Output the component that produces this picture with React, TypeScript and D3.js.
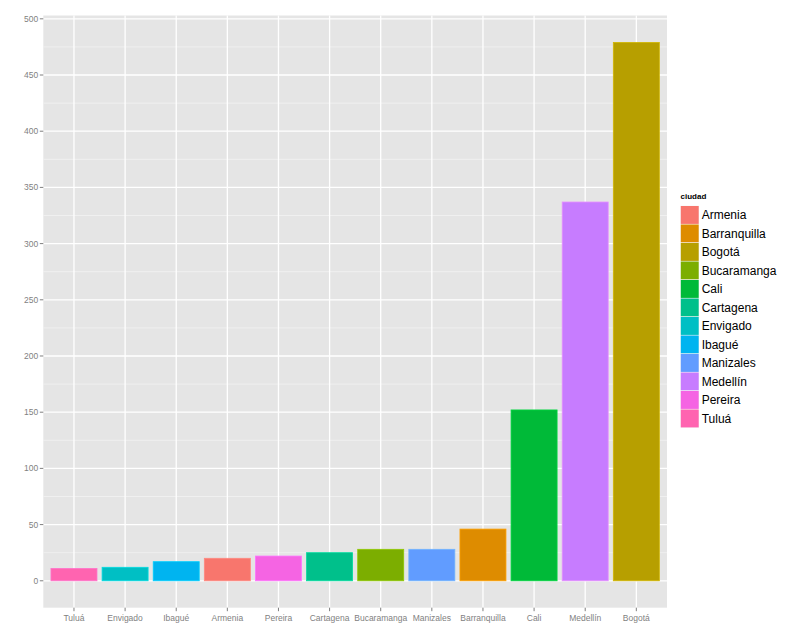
import * as d3 from "d3"

const ciudades = ["Tuluá", "Envigado", "Ibagué", "Armenia", "Pereira", "Cartagena", "Bucaramanga", "Manizales", "Barranquilla", "Cali", "Medellín", "Bogotá"]
const valores = [11, 12, 17, 20, 22, 25, 28, 28, 46, 152, 337, 479]
const legendOrder = ["Armenia", "Barranquilla", "Bogotá", "Bucaramanga", "Cali", "Cartagena", "Envigado", "Ibagué", "Manizales", "Medellín", "Pereira", "Tuluá"]
const palette = ["#F8766D", "#DE8C00", "#B79F00", "#7CAE00", "#00BA38", "#00C08B", "#00BFC4", "#00B4F0", "#619CFF", "#C77CFF", "#F564E3", "#FF64B0"]
const yTicks = [0, 50, 100, 150, 200, 250, 300, 350, 400, 450, 500]
const legendTitle = "ciudad"

const W = 800
const H = 644
const panel = { left: 43.3, right: 667, top: 15.5, bottom: 607.7 }

export default function App() {
  const maxV = d3.max(valores) as number
  const pad = maxV * 0.05
  const y = d3.scaleLinear().domain([-pad, maxV + pad]).range([panel.bottom, panel.top])
  const x = d3.scaleBand().domain(ciudades).range([panel.left, panel.right]).paddingOuter(0.1).paddingInner(0.1).align(0.5)
  // ggplot discrete expansion: 0.6 units each side, bar width 0.9
  const step = (panel.right - panel.left) / (ciudades.length - 1 + 1.2)
  const cx = (c: string) => panel.left + step * (0.6 + ciudades.indexOf(c))
  const bw = step * 0.9
  const color = d3.scaleOrdinal<string, string>().domain(legendOrder).range(palette)
  const minor = d3.range(25, maxV + pad, 50)
  const keyH = 18.5
  const legendTop = 205.7

  void x
  return (
    <svg width={W} height={H} style={{ position: "absolute", left: 0, top: 0 }} fontFamily="Liberation Sans, Arial, sans-serif">
      <rect x={0} y={0} width={W} height={H} fill="#ffffff" />
      <rect x={panel.left} y={panel.top} width={panel.right - panel.left} height={panel.bottom - panel.top} fill="#E5E5E5" />
      {minor.map((t) => (
        <line key={"m" + t} x1={panel.left} x2={panel.right} y1={y(t)} y2={y(t)} stroke="#F2F2F2" strokeWidth={0.8} />
      ))}
      {yTicks.map((t) => (
        <line key={"g" + t} x1={panel.left} x2={panel.right} y1={y(t)} y2={y(t)} stroke="#ffffff" strokeWidth={1.3} />
      ))}
      {ciudades.map((c) => (
        <line key={"v" + c} x1={cx(c)} x2={cx(c)} y1={panel.top} y2={panel.bottom} stroke="#ffffff" strokeWidth={1.3} />
      ))}
      {ciudades.map((c, i) => (
        <rect
          key={"b" + c}
          x={cx(c) - bw / 2}
          y={y(valores[i])}
          width={bw}
          height={y(0) - y(valores[i])}
          fill={color(c)}
          stroke={d3.color(color(c))!.brighter(0.4).formatHex()}
          strokeWidth={0.8}
        />
      ))}
      {yTicks.map((t) => (
        <g key={"yt" + t}>
          <line x1={panel.left - 3.5} x2={panel.left} y1={y(t)} y2={y(t)} stroke="#7F7F7F" strokeWidth={1} />
          <text x={panel.left - 5} y={y(t)} dy="0.35em" textAnchor="end" fontSize={8.5} fill="#7F7F7F">
            {t}
          </text>
        </g>
      ))}
      {ciudades.map((c) => (
        <g key={"xt" + c}>
          <line x1={cx(c)} x2={cx(c)} y1={panel.bottom} y2={panel.bottom + 3.5} stroke="#7F7F7F" strokeWidth={1} />
          <text x={cx(c)} y={panel.bottom + 10} dy="0.35em" textAnchor="middle" fontSize={8.5} fill="#7F7F7F">
            {c}
          </text>
        </g>
      ))}
      <text x={680.5} y={199} fontSize={8} fontWeight="bold" fill="#000000">
        {legendTitle}
      </text>
      {legendOrder.map((c, i) => (
        <g key={"l" + c}>
          <rect x={680.5} y={legendTop + i * keyH} width={18.5} height={keyH} fill="#F2F2F2" />
          <rect x={680.8} y={legendTop + i * keyH + 0.3} width={17.9} height={keyH - 0.6} fill={color(c)} />
          <text x={701.7} y={legendTop + i * keyH + keyH / 2} dy="0.36em" fontSize={12} fill="#000000">
            {c}
          </text>
        </g>
      ))}
    </svg>
  )
}
